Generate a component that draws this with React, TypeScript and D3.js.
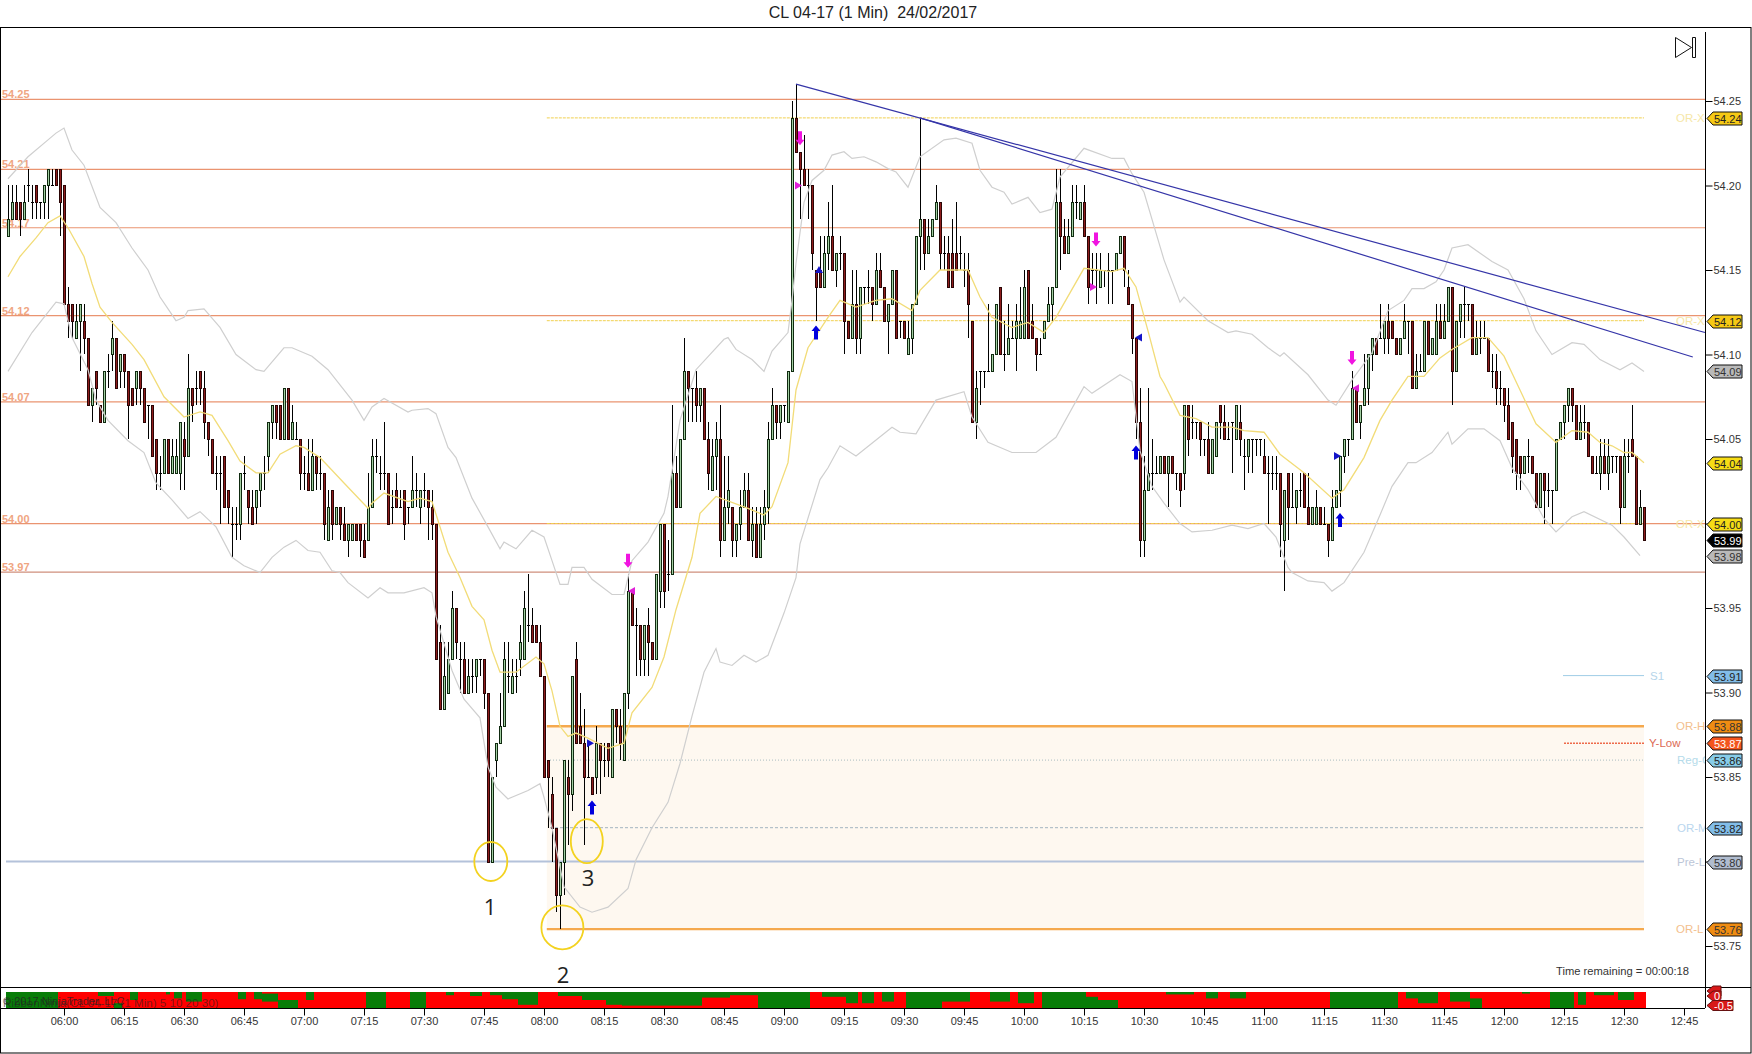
import { useEffect, useRef } from 'react';
import * as d3 from 'd3';

// one row per minute, first bar is 05:46. cents away from 54.00: open, close, high, low
const barsPreOpen = [
    [17,18,20,17],[18,19,20,18],[19,18,20,18],[19,18,19,17],[18,19,20,18],[20,20,21,19],[19,19,20,18],
    [20,19,20,18],[19,19,19,18],[19,20,20,18],[20,21,21,18],[20,20,21,20],[21,20,21,20],[21,19,21,17],
];
const bars06 = [
    [20,13,20,13],[13,12,14,11],[13,12,13,11],[11,12,13,11],[12,13,13,9],[12,11,13,10],[11,7,11,7],[7,8,8,6],
    [9,8,9,7],[7,6,7,6],[6,9,9,6],[9,9,10,8],[10,11,12,9],[11,8,11,8],[9,10,10,8],[10,9,10,8],
    [9,7,9,5],[8,7,8,7],[8,9,9,7],[9,8,9,7],[8,6,8,6],[7,7,7,5],[7,4,7,4],[5,3,5,2],
    [3,3,4,2],[3,5,5,3],[5,3,5,3],[3,4,5,3],[3,4,5,3],[3,6,6,2],[5,4,6,2],[4,8,10,4],
    [8,7,8,6],[8,8,9,7],[9,8,9,7],[8,6,9,5],[6,5,6,4],[5,3,5,3],[3,3,4,2],[3,3,4,0],
    [4,1,4,1],[2,1,2,0],[0,0,1,-2],[0,0,1,-1],[0,3,3,-1],[3,3,4,2],[2,1,2,0],[1,0,2,0],
    [1,2,2,0],[2,3,3,1],[3,3,4,2],[4,6,6,3],[6,7,7,5],[7,6,7,5],[7,5,7,5],[5,8,8,5],
    [8,5,8,5],[5,6,7,5],[5,5,6,5],[5,3,5,2],
];
const bars07 = [
    [3,3,4,2],[3,2,5,2],[2,4,5,2],[4,3,4,2],[3,3,4,2],[3,0,3,-1],[-1,1,2,-1],[2,0,2,-1],
    [0,1,1,0],[1,0,1,-1],[0,-1,1,-1],[-1,0,0,-2],[-1,0,0,-1],[0,-1,0,-1],[0,-1,0,-2],[-1,-2,0,-2],
    [-1,1,3,-1],[1,4,5,1],[4,4,5,3],[3,3,4,2],[3,3,6,2],[3,0,3,0],[1,1,2,0],[2,1,3,1],
    [1,1,2,1],[2,0,2,-1],[1,1,1,0],[1,2,4,1],[2,2,3,1],[1,2,2,0],[2,2,3,1],[2,1,2,-1],
    [1,0,2,-1],[0,-8,0,-8],[-7,-11,-6,-11],[-11,-9,-7,-11],[-10,-8,-7,-10],[-8,-5,-4,-8],[-5,-7,-5,-8],[-8,-8,-7,-10],
    [-8,-10,-7,-10],[-10,-9,-8,-10],[-9,-9,-8,-10],[-9,-8,-8,-10],[-8,-8,-8,-9],[-8,-10,-8,-11],[-10,-20,-10,-20],[-20,-15,-15,-20],
    [-14,-13,-13,-15],[-13,-12,-10,-13],[-12,-8,-7,-12],[-9,-9,-7,-10],[-10,-9,-8,-10],[-9,-9,-8,-10],[-8,-7,-6,-9],[-8,-5,-4,-8],
    [-6,-6,-3,-7],[-6,-7,-5,-7],[-6,-7,-6,-7],[-7,-9,-6,-9],
];
const bars08 = [
    [-9,-15,-9,-15],[-14,-15,-14,-18],[-16,-18,-15,-20],[-18,-22,-18,-23],[-22,-20,-20,-24],[-20,-14,-14,-22],[-15,-16,-14,-19],[-16,-9,-9,-17],
    [-8,-13,-7,-13],[-12,-13,-10,-13],[-13,-15,-11,-19],[-15,-15,-13,-15],[-15,-16,-15,-16],[-15,-13,-12,-16],[-13,-14,-13,-16],[-14,-14,-13,-15],
    [-13,-14,-13,-15],[-15,-11,-11,-15],[-11,-12,-11,-13],[-12,-13,-11,-14],[-14,-10,-10,-14],[-10,-4,-3,-11],[-4,-6,-4,-6],[-6,-6,-5,-9],
    [-6,-8,-6,-9],[-8,-6,-6,-9],[-6,-7,-5,-9],[-7,-8,-7,-8],[-8,-3,-3,-8],[-4,0,0,-5],[0,-4,0,-5],[-3,-3,-1,-4],
    [-3,3,7,-3],[3,1,4,1],[1,5,5,1],[5,9,11,5],[9,8,9,6],[8,8,8,6],[8,7,9,6],[7,8,8,6],
    [8,5,8,5],[5,3,6,2],[2,4,5,2],[4,5,6,2],[5,-1,7,-2],[-1,1,4,-1],[1,2,4,0],[1,-1,1,-2],
    [-1,0,0,-2],[0,1,2,-1],[1,2,3,1],[2,-1,3,-1],[-1,0,1,-2],[0,-2,1,-2],[-2,0,1,-2],[0,1,2,-1],
    [1,5,6,0],[5,7,8,5],[7,6,7,5],[6,7,7,5],
];
const bars09 = [
    [7,7,7,6],[6,9,9,6],[9,24,25,9],[24,22,26,22],[22,21,22,18],[21,20,23,20],[20,20,21,18],[20,16,20,15],
    [15,14,15,12],[15,14,17,14],[14,16,17,14],[16,17,19,15],[17,15,20,15],[15,16,16,14],[16,16,17,15],[16,12,16,10],
    [12,11,12,11],[11,13,15,11],[13,11,15,10],[11,14,14,10],[14,14,14,13],[14,14,15,13],[14,13,14,12],[13,15,16,13],
    [15,14,16,14],[14,12,14,12],[12,13,13,10],[13,15,15,13],[15,11,15,11],[12,12,12,11],[12,11,12,11],[10,11,12,10],
    [11,13,13,10],[13,17,17,13],[17,18,24,15],[18,16,18,15],[16,17,18,16],[17,18,18,17],[18,19,20,18],[19,16,19,15],
    [16,16,17,15],[16,14,17,14],[16,14,18,14],[16,15,19,15],[16,16,17,15],[15,15,16,14],[15,13,16,11],[12,6,12,6],
    [6,8,9,5],[9,9,9,7],[9,9,9,8],[9,9,13,9],[9,10,10,9],[10,13,13,10],[14,10,14,10],[10,10,12,9],
    [10,11,13,10],[11,11,12,11],[11,12,13,9],[11,12,14,11],
];
const bars10 = [
    [11,14,15,11],[15,11,15,11],[12,11,13,11],[11,10,11,9],[10,10,11,10],[11,12,12,11],[12,13,14,12],[13,14,14,12],
    [14,19,21,14],[19,17,21,15],[17,16,18,16],[16,17,18,16],[17,19,20,17],[19,19,20,18],[18,19,19,18],[19,17,20,17],
    [17,14,17,13],[15,15,16,14],[15,15,16,13],[14,15,16,14],[15,15,15,14],[15,15,16,13],[15,15,15,13],[15,16,16,15],
    [16,17,17,16],[17,15,17,14],[14,13,15,13],[13,11,13,10],[11,6,11,5],[6,-1,8,-2],[-1,2,4,-2],[2,3,8,2],
    [3,3,5,2],[3,3,4,3],[3,4,4,3],[4,3,4,3],[3,4,4,1],[4,3,4,3],[3,3,3,2],[3,2,3,1],
    [3,7,7,2],[7,5,7,4],[6,6,7,5],[6,6,6,5],[6,5,6,4],[5,5,5,4],[5,3,6,3],[3,5,5,3],
    [4,6,6,4],[7,6,7,5],[6,5,7,5],[5,5,6,5],[6,6,6,3],[5,7,7,5],[6,5,7,4],[4,4,5,2],
    [4,5,5,3],[5,5,5,3],[5,5,5,4],[5,5,5,4],
];
const bars11 = [
    [4,3,5,3],[3,3,4,0],[3,3,4,2],[3,3,4,2],[3,0,3,-2],[-1,2,2,-4],[3,1,3,-1],[1,1,3,1],
    [1,2,2,0],[2,2,3,1],[3,1,3,1],[1,0,3,0],[0,1,1,0],[0,1,2,0],[1,0,1,0],[0,0,1,0],
    [0,-1,0,-2],[-1,1,2,-1],[1,2,2,1],[2,4,4,1],[4,5,5,3],[5,5,5,4],[5,8,9,5],[8,6,8,6],
    [6,7,7,5],[7,8,10,7],[8,10,10,7],[10,11,11,9],[11,10,11,10],[11,11,13,11],[11,12,12,10],[12,11,13,10],
    [12,11,12,11],[11,10,11,10],[10,11,11,10],[11,12,13,11],[12,12,12,10],[12,8,12,8],[8,9,10,8],[9,9,10,9],
    [9,12,12,9],[12,10,12,10],[10,11,11,10],[10,12,13,10],[12,11,13,11],[11,12,13,11],[12,14,14,12],[14,9,14,7],
    [9,12,12,9],[12,13,13,11],[13,13,14,11],[13,13,13,12],[13,10,13,10],[10,11,12,10],[11,11,12,10],[11,11,12,11],
    [11,9,11,9],[9,9,10,8],[9,8,10,7],[8,8,9,7],
];
const bars12 = [
    [8,7,8,6],[7,5,8,5],[6,4,6,3],[5,3,5,2],[4,3,4,2],[3,4,4,3],[4,4,5,3],[4,3,4,3],
    [3,1,3,1],[1,3,3,1],[3,2,3,0],[2,2,3,1],[2,2,2,0],[2,5,5,2],[5,6,6,5],[6,7,7,5],
    [7,8,8,6],[8,7,8,6],[7,5,7,5],[5,6,7,5],[6,6,7,5],[6,4,6,4],[4,3,4,3],[3,3,4,3],
    [3,4,5,2],[4,3,5,3],[3,4,5,2],[4,4,4,3],[4,4,4,3],[4,1,4,0],[1,4,5,1],[4,4,5,3],
    [5,4,7,4],[4,0,4,0],[0,1,2,0],[1,-1,1,-1],
];

// [bar number, price]
const upperBand = [
    [0,54.204],[5,54.217],[10,54.227],[12,54.231],[14,54.234],[16,54.221],[19,54.212],[23,54.187],[27,54.178],[31,54.163],[35,54.150],[38,54.134],[42,54.120],[44,54.122],[45,54.126],[49,54.127],[53,54.116],[57,54.100],[62,54.091],[64,54.090],[69,54.104],[71,54.104],[76,54.099],[80,54.091],[86,54.073],[89,54.061],[91,54.069],[94,54.074],[100,54.066],[101,54.067],[105,54.068],[107,54.065],[110,54.045],[112,54.039],[116,54.015],[120,53.998],[123,53.985],[124,53.989],[127,53.985],[131,53.996],[134,53.992],[136,53.978],[138,53.964],[140,53.964],[141,53.974],[144,53.974],[146,53.967],[151,53.958],[154,53.958],[156,53.978],[160,53.989],[164,54.006],[165,54.016],[168,54.061],[172,54.091],[179,54.109],[180,54.110],[182,54.103],[186,54.097],[189,54.090],[191,54.102],[195,54.113],[196,54.132],[197,54.154],[199,54.190],[201,54.203],[204,54.209],[206,54.218],[209,54.220],[211,54.216],[214,54.217],[217,54.214],[220,54.210],[222,54.208],[225,54.199],[228,54.217],[234,54.227],[237,54.228],[241,54.225],[243,54.209],[246,54.199],[249,54.196],[251,54.189],[255,54.193],[258,54.184],[261,54.186],[263,54.205],[269,54.222],[276,54.216],[279,54.216],[281,54.207],[284,54.196],[288,54.164],[289,54.156],[293,54.131],[294,54.134],[300,54.120],[305,54.113],[307,54.114],[311,54.112],[315,54.104],[318,54.099],[319,54.101],[325,54.088],[330,54.073],[332,54.070],[336,54.085],[341,54.101],[345,54.126],[349,54.132],[351,54.139],[354,54.139],[357,54.143],[359,54.150],[361,54.163],[365,54.165],[371,54.155],[375,54.150],[379,54.133],[382,54.114],[386,54.100],[391,54.107],[394,54.106],[398,54.097],[403,54.091],[406,54.095],[409,54.090],
];
const lowerBand = [
    [0,54.090],[6,54.113],[12,54.131],[14,54.130],[16,54.110],[20,54.091],[22,54.073],[25,54.061],[30,54.049],[34,54.042],[37,54.024],[41,54.014],[45,54.003],[48,54.007],[52,53.998],[56,53.980],[59,53.975],[63,53.971],[66,53.980],[69,53.986],[72,53.990],[75,53.984],[78,53.983],[81,53.972],[83,53.971],[85,53.965],[90,53.956],[93,53.962],[95,53.959],[99,53.959],[104,53.962],[106,53.959],[107,53.945],[111,53.913],[114,53.896],[118,53.885],[120,53.856],[122,53.844],[125,53.837],[130,53.842],[133,53.846],[134,53.838],[136,53.820],[139,53.785],[143,53.773],[146,53.770],[150,53.773],[155,53.784],[157,53.801],[161,53.820],[165,53.835],[168,53.858],[171,53.886],[174,53.912],[177,53.926],[178,53.918],[181,53.916],[184,53.922],[187,53.918],[190,53.922],[194,53.947],[197,53.968],[198,53.988],[203,54.026],[205,54.033],[208,54.046],[212,54.040],[221,54.057],[223,54.054],[227,54.053],[232,54.073],[239,54.078],[241,54.063],[245,54.048],[251,54.042],[257,54.042],[262,54.051],[269,54.081],[271,54.077],[278,54.088],[281,54.084],[283,54.043],[286,54.022],[289,54.012],[293,54.000],[296,53.995],[301,53.996],[306,53.999],[310,53.997],[314,54.000],[317,53.992],[320,53.974],[321,53.971],[325,53.966],[329,53.965],[331,53.960],[334,53.965],[339,53.983],[343,54.005],[346,54.022],[350,54.036],[352,54.036],[356,54.042],[360,54.054],[361,54.047],[365,54.056],[369,54.056],[373,54.049],[376,54.033],[380,54.020],[384,54.003],[387,53.995],[391,54.004],[394,54.007],[401,53.999],[404,53.992],[408,53.981],
];
const emaLine = [
    [0,54.146],[3,54.158],[7,54.169],[10,54.178],[13,54.182],[15,54.175],[19,54.158],[21,54.142],[23,54.128],[26,54.119],[31,54.106],[34,54.097],[39,54.075],[44,54.063],[48,54.066],[51,54.064],[55,54.049],[58,54.037],[62,54.030],[65,54.030],[68,54.041],[72,54.046],[74,54.045],[78,54.039],[84,54.024],[90,54.009],[91,54.012],[94,54.018],[100,54.013],[103,54.015],[106,54.013],[110,53.983],[113,53.968],[116,53.951],[119,53.943],[121,53.925],[123,53.912],[127,53.912],[132,53.921],[134,53.917],[136,53.901],[138,53.880],[140,53.874],[142,53.876],[145,53.873],[150,53.867],[154,53.870],[156,53.888],[161,53.903],[164,53.921],[167,53.949],[171,53.980],[173,54.006],[177,54.016],[185,54.009],[189,54.005],[191,54.010],[195,54.036],[197,54.079],[200,54.104],[205,54.122],[208,54.132],[212,54.128],[217,54.132],[221,54.133],[226,54.126],[228,54.138],[233,54.150],[240,54.150],[243,54.134],[246,54.122],[251,54.116],[255,54.119],[259,54.113],[262,54.122],[269,54.151],[276,54.149],[279,54.151],[282,54.140],[285,54.114],[288,54.087],[289,54.083],[293,54.064],[297,54.062],[301,54.057],[306,54.057],[309,54.055],[314,54.054],[318,54.041],[324,54.030],[331,54.015],[334,54.020],[339,54.039],[343,54.061],[346,54.073],[350,54.087],[354,54.087],[358,54.098],[361,54.103],[366,54.110],[370,54.110],[374,54.099],[378,54.079],[382,54.059],[387,54.048],[391,54.055],[395,54.054],[398,54.048],[401,54.046],[404,54.042],[406,54.042],[409,54.036],
];

// green part of the ribbon: first bar, last bar, top and bottom as share of the strip
const ribbonGreen = [
    [0,12,0,1],[23,26,0,.25],[27,28,.7,1],[31,32,0,.5],[40,40,0,.15],[42,43,0,.4],[45,48,0,.6],[58,59,0,.45],[62,63,0,.45],[64,67,.1,.6],[68,72,.5,1],[75,76,0,.5],[90,94,0,1],[101,104,0,1],[110,111,0,.2],[116,118,0,.25],[121,123,0,.2],
    [124,127,0,.45],[128,132,0,.8],[138,143,0,.25],[144,149,0,.5],[150,153,0,.8],[154,173,0,.85],[174,180,0,.35],[181,188,0,.2],[188,200,0,1],[204,210,0,.3],[210,212,0,.7],[214,216,0,.7],[219,221,0,.6],[225,233,0,1],[233,240,0,.6],[246,250,0,.6],[253,256,0,.7],[259,269,0,1],[269,272,.3,1],[272,277,.5,1],
    [290,296,0,.15],[300,302,0,.4],[306,309,0,.4],[331,347,0,1],[350,352,0,.4],[353,357,0,.7],[361,365,0,.6],[366,368,.4,1],[379,380,0,.1],[386,391,0,1],[393,394,0,.8],[397,401,0,.2],[403,406,0,.5],
];

const priceTicks = [54.25, 54.20, 54.15, 54.10, 54.05, 54.00, 53.95, 53.90, 53.85, 53.80, 53.75];
const timeLabels = ["06:00","06:15","06:30","06:45","07:00","07:15","07:30","07:45","08:00","08:15","08:30","08:45","09:00","09:15","09:30","09:45","10:00","10:15","10:30","10:45","11:00","11:15","11:30","11:45","12:00","12:15","12:30","12:45"];

const pivotPrices = [54.251, 54.2096, 54.175, 54.123, 54.072, 53.9999, 53.9712];
const pivotLabels = ["54.25", "54.21", "54.17", "54.12", "54.07", "54.00", "53.97"];

const tagPrices = [54.24, 54.12, 54.09, 54.036, 54.00, 53.99, 53.981, 53.91, 53.88, 53.87, 53.86, 53.82, 53.80, 53.76];

const arrowUpBars = [[202,54.113],[146,53.832],[282,54.042],[333,54.002]];
const arrowDownBars = [[155,53.978],[198,54.228],[272,54.168],[336,54.098]];
const triangleBlue = [[145.5,53.87,90],[202.75,54.15,0],[282.75,54.11,-90],[332.25,54.04,90]];
const triangleMagenta = [[156,53.96,-90],[197.5,54.20,90],[271.25,54.14,90],[337,54.08,-90]];

const trendLines = [
    [197,54.26,424.25,54.113],
    [228,54.24,421.2,54.0985],
];
const swingCircles = [[120.7,53.80,"1",120.5,53.773],[138.6,53.761,"2",138.75,53.733],[144.7,53.812,"3",145,53.79]];

export default function App() {
    const svgRef = useRef<SVGSVGElement>(null);

    useEffect(() => {
        if (!svgRef.current) return;
        const svg = d3.select(svgRef.current);
        svg.selectAll("*").remove();

        const font = "'Liberation Sans', Arial, sans-serif";
        const axisX = 1705;
        const ribbonTop = 992;
        const ribbonBottom = 1008;

        const bars = [...barsPreOpen, ...bars06, ...bars07, ...bars08, ...bars09, ...bars10, ...bars11, ...bars12]
            .map(([o, c, h, l], i) => ({ i, o: 54 + o / 100, c: 54 + c / 100, h: 54 + h / 100, l: 54 + l / 100 }));

        const x = d3.scaleLinear().domain([0, 409]).range([8, 1644]);
        const y = d3.scaleLinear().domain([53.75, 54.25]).range([946, 101]);
        const py = (p: number) => Math.round(y(p)) + 0.5;
        const lastX = x(409);

        svg.attr("width", 1752).attr("height", 1054)
            .style("position", "absolute").style("left", "0").style("top", "0").style("background", "#fff")
            .style("font-family", font);

        svg.append("defs").append("clipPath").attr("id", "plotClip")
            .append("rect").attr("x", 0).attr("y", 28).attr("width", axisX + 1).attr("height", 960);

        // Title
        svg.append("text").attr("x", 873).attr("y", 18).attr("text-anchor", "middle")
            .attr("font-size", 16).attr("fill", "#222").text("CL 04-17 (1 Min)  24/02/2017")
            .attr("xml:space", "preserve").style("white-space", "pre");

        // Opening range zone
        svg.append("rect").attr("x", x(134.7)).attr("width", lastX - x(134.7))
            .attr("y", y(53.88)).attr("height", y(53.76) - y(53.88)).attr("fill", "#fef8f0");

        // Pivot lines
        svg.append("g").selectAll("line").data(pivotPrices).join("line")
            .attr("x1", 1).attr("x2", axisX)
            .attr("y1", d => y(d)).attr("y2", d => y(d))
            .attr("stroke", (d, i) => i === 6 ? "#cf8f7c" : "#ea9470").attr("stroke-width", 1.2);
        svg.append("g").selectAll("text").data(pivotLabels).join("text")
            .attr("x", 2).attr("y", (d, i) => y(pivotPrices[i]) - 1)
            .attr("font-size", 11).attr("font-weight", 700).attr("fill", "#efa582").text(d => d);

        // Levels on the right
        const level = (p: number, from: number, color: string, width: number, dash: string | null) =>
            svg.append("line").attr("x1", x(from)).attr("x2", lastX)
                .attr("y1", y(p)).attr("y2", y(p))
                .attr("stroke", color).attr("stroke-width", width).attr("stroke-dasharray", dash);
        [54.24, 54.12, 54.00].forEach(p => level(p, 134.7, "#f0d050", 1, "3,1"));
        level(53.86, 135.5, "#a9bcc0", 1, "1,2");
        level(53.82, 135.5, "#a3b4c0", 1, "3,2");
        level(53.80, -0.5, "#b4c2da", 2, null);
        level(53.88, 134.7, "#f5a94e", 2.4, null);
        level(53.76, 134.7, "#f5a94e", 2.4, null);
        level(53.91, 388.75, "#9fcde6", 1, null);
        level(53.87, 389, "#ee6a4a", 1.6, "2,1");

        const levelNames: [string, number, string, number][] = [
            ["OR-X", 54.24, "#f6e7a6", 1676], ["OR-X", 54.12, "#f6e7a6", 1676], ["OR-X", 54.00, "#f6e7a6", 1676],
            ["S1", 53.91, "#b6d5ea", 1650], ["OR-H", 53.88, "#f3c08c", 1676], ["Y-Low", 53.87, "#dc6a55", 1649],
            ["Reg-C", 53.86, "#b5dbea", 1677], ["OR-M", 53.82, "#b9d6ee", 1677], ["Pre-L", 53.80, "#bcc6d8", 1677], ["OR-L", 53.76, "#f3c08c", 1676],
        ];
        svg.append("g").attr("clip-path", "url(#plotClip)").selectAll("text").data(levelNames).join("text")
            .attr("x", d => d[3]).attr("y", d => y(d[1]) + 4)
            .attr("font-size", 11.5).attr("fill", d => d[2]).text(d => d[0]);

        // Bars
        const barG = svg.append("g");
        barG.selectAll("line").data(bars).join("line")
            .attr("x1", d => x(d.i) + 0.5).attr("x2", d => x(d.i) + 0.5)
            .attr("y1", d => Math.round(y(d.h))).attr("y2", d => Math.round(y(d.l)))
            .attr("stroke", "#000").attr("stroke-width", 1);
        barG.selectAll("rect").data(bars.filter(d => d.o !== d.c)).join("rect")
            .attr("x", d => x(d.i) - 0.5).attr("width", 2)
            .attr("y", d => py(Math.max(d.o, d.c))).attr("height", d => py(Math.min(d.o, d.c)) - py(Math.max(d.o, d.c)))
            .attr("fill", d => d.c > d.o ? "#a3cfa3" : "#8e1c1c")
            .attr("stroke", d => d.c > d.o ? "#0f2a0f" : "#2a0505").attr("stroke-width", 1);
        barG.selectAll("path").data(bars.filter(d => d.o === d.c)).join("path")
            .attr("d", d => `M${x(d.i) - 1},${py(d.o)}h3`).attr("stroke", "#000").attr("stroke-width", 1);

        // Bands and average
        const line = d3.line<number[]>().x(d => x(d[0])).y(d => y(d[1]));
        svg.append("path").attr("d", line(upperBand)).attr("fill", "none").attr("stroke", "#cfcfcf").attr("stroke-width", 1.2);
        svg.append("path").attr("d", line(lowerBand)).attr("fill", "none").attr("stroke", "#cfcfcf").attr("stroke-width", 1.2);
        svg.append("path").attr("d", line(emaLine)).attr("fill", "none").attr("stroke", "#f2dc78").attr("stroke-width", 1.3);

        // Trend lines
        svg.append("g").selectAll("line").data(trendLines).join("line")
            .attr("x1", d => x(d[0])).attr("y1", d => y(d[1]))
            .attr("x2", d => x(d[2])).attr("y2", d => y(d[3]))
            .attr("stroke", "#3535a8").attr("stroke-width", 1.2);

        // Signal arrows
        const arrowPath = "M0,-7L4.5,-1.5H2V7H-2V-1.5H-4.5Z";
        svg.append("g").selectAll("path").data(arrowUpBars).join("path")
            .attr("d", arrowPath).attr("fill", "#0000dd")
            .attr("transform", d => `translate(${x(d[0])},${y(d[1])})`);
        svg.append("g").selectAll("path").data(arrowDownBars).join("path")
            .attr("d", arrowPath).attr("fill", "#f014e0")
            .attr("transform", d => `translate(${x(d[0])},${y(d[1])}) rotate(180)`);
        const triPath = "M0,-4L4,3H-4Z";
        svg.append("g").selectAll("path").data(triangleBlue).join("path")
            .attr("d", triPath).attr("fill", "#1414c8")
            .attr("transform", d => `translate(${x(d[0])},${y(d[1])}) rotate(${d[2]})`);
        svg.append("g").selectAll("path").data(triangleMagenta).join("path")
            .attr("d", triPath).attr("fill", "#e020d8")
            .attr("transform", d => `translate(${x(d[0])},${y(d[1])}) rotate(${d[2]})`);

        // Circled swing lows
        const rx = [16.5, 21, 16];
        const ry = [19.5, 22, 22];
        svg.append("g").selectAll("ellipse").data(swingCircles).join("ellipse")
            .attr("cx", d => x(d[0] as number)).attr("cy", d => y(d[1] as number))
            .attr("rx", (d, i) => rx[i]).attr("ry", (d, i) => ry[i])
            .attr("fill", "none").attr("stroke", "#f3d21f").attr("stroke-width", 1.8);
        svg.append("g").selectAll("text").data(swingCircles).join("text")
            .attr("x", d => x(d[3] as number)).attr("y", d => y(d[4] as number) + 8)
            .attr("text-anchor", "middle").attr("font-size", 22).attr("font-family", "'Open Sans', sans-serif")
            .attr("fill", "#222").text(d => d[2] as string);

        // Jump to end icon
        svg.append("path").attr("d", "M1675.5,37.5L1691.5,47.5L1675.5,57.5Z M1692.5,37.5h3v20h-3Z")
            .attr("fill", "none").attr("stroke", "#111").attr("stroke-width", 1);

        svg.append("text").attr("x", 1556).attr("y", 975).attr("font-size", 11.2)
            .attr("fill", "#333").text("Time remaining = 00:00:18");

        // Ribbon strip
        svg.append("rect").attr("x", x(0) - 2).attr("width", lastX - x(0) + 4)
            .attr("y", ribbonTop).attr("height", ribbonBottom - ribbonTop).attr("fill", "#ff0000");
        svg.append("g").selectAll("rect").data(ribbonGreen).join("rect")
            .attr("x", d => x(d[0]) - 2).attr("width", d => x(d[1]) - x(d[0]) + 4)
            .attr("y", d => ribbonTop + d[2] * (ribbonBottom - ribbonTop))
            .attr("height", d => (d[3] - d[2]) * (ribbonBottom - ribbonTop))
            .attr("fill", "#087d08");
        svg.append("text").attr("x", 3).attr("y", 1005).attr("font-size", 11).attr("fill", "#222").attr("fill-opacity", 0.75)
            .text("© 2017 NinjaTrader, LLC");
        svg.append("text").attr("x", 3).attr("y", 1007).attr("font-size", 11.6).attr("fill", "#222").attr("fill-opacity", 0.6)
            .text("RibbonNinja(CL 04-17 (1 Min) 5 10 20 30)");

        // Axes
        svg.append("g").attr("transform", `translate(${axisX + 0.5},0)`)
            .call(d3.axisRight(y).tickValues(priceTicks).tickSize(7).tickPadding(1).tickFormat(d => d3.format(".2f")(d as number)))
            .call(g => g.select(".domain").remove())
            .call(g => g.selectAll("text").attr("font-size", 11).attr("font-family", font).attr("fill", "#333"))
            .call(g => g.selectAll("line").attr("stroke", "#000"));
        svg.append("line").attr("x1", axisX + 0.5).attr("x2", axisX + 0.5).attr("y1", 32).attr("y2", ribbonBottom).attr("stroke", "#000");

        const xAxisBars = timeLabels.map((d, i) => 14 + i * 15);
        svg.append("g").attr("transform", `translate(0,${ribbonBottom + 0.5})`)
            .call(d3.axisBottom(x).tickValues(xAxisBars).tickSize(7).tickPadding(2).tickFormat((d, i) => timeLabels[i]))
            .call(g => g.select(".domain").remove())
            .call(g => g.selectAll("text").attr("font-size", 11).attr("font-family", font).attr("fill", "#333"))
            .call(g => g.selectAll("line").attr("stroke", "#000"));
        svg.append("line").attr("x1", 1).attr("x2", axisX).attr("y1", ribbonBottom + 0.5).attr("y2", ribbonBottom + 0.5).attr("stroke", "#000");
        svg.append("line").attr("x1", 1).attr("x2", 1751).attr("y1", 987.5).attr("y2", 987.5).attr("stroke", "#000");

        // Price tags
        const tagFills = ["#f6c915", "#f6c915", "#b9b9b9", "#f6dc15", "#f6dc15", "#000", "#b9b9b9", "#82bde8", "#ef8c12", "#f4551e", "#87cce8", "#82bde8", "#b0bccf", "#ef8c12"];
        const tagInk = ["#222", "#222", "#333", "#222", "#222", "#fff", "#333", "#222", "#333", "#fff", "#222", "#222", "#333", "#333"];
        const tagG = svg.append("g").selectAll("g").data(tagPrices).join("g")
            .attr("transform", d => `translate(0,${py(d)})`);
        tagG.append("path").attr("d", "M1707,0L1713,-6.5H1742V6.5H1713Z")
            .attr("fill", (d, i) => tagFills[i]).attr("stroke", "#111").attr("stroke-width", 1);
        tagG.append("text").attr("x", 1714).attr("y", 4).attr("font-size", 11)
            .attr("fill", (d, i) => tagInk[i]).text(d => d3.format(".2f")(d));

        // Ribbon tags, they pile up on each other
        const ribbonTags = ["", "0.5", "-0.5"];
        const ribbonTagY = [991, 996, 1005.5];
        const redTags = svg.append("g").selectAll("g").data(ribbonTags).join("g")
            .attr("transform", (d, i) => `translate(0,${ribbonTagY[i]})`);
        redTags.append("path").attr("d", (d, i) => i === 2 ? "M1707,0L1713,-5H1733V5H1713Z" : "M1707,0L1713,-5H1721V5H1713Z")
            .attr("fill", "#d81818").attr("stroke", "#611").attr("stroke-width", 1);
        redTags.append("text").attr("x", 1714).attr("y", 4).attr("font-size", 11).attr("fill", "#fff").text(d => d);

        // Frame
        svg.append("rect").attr("x", 0.5).attr("y", 27.5).attr("width", 1750.5).attr("height", 1025.5)
            .attr("fill", "none").attr("stroke", "#000");
    }, []);

    return <svg ref={svgRef}></svg>;
}
